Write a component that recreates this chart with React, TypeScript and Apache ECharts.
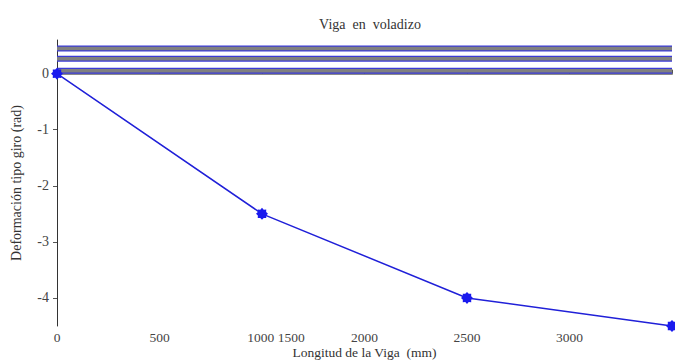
import React, { useEffect, useRef } from "react";
import * as echarts from "echarts";

// X tick labels as printed on the reference axis (evenly spaced ticks)
const xTickLabels = ["0", "500", "1000 1500", "2000", "2500", "3000", ""];
// Deformation (rad) at the beam stations; null where no station sits on a tick
const deformation = [0, null, -2.5, null, -4, null, -4.5];
// Beam drawing (three horizontal stripes) levels
const beamTop = [0.45, 0.45, 0.45, 0.45, 0.45, 0.45, 0.45];
const beamMid = [0.265, 0.265, 0.265, 0.265, 0.265, 0.265, 0.265];
const beamBottom = [0.05, 0.05, 0.05, 0.05, 0.05, 0.05, 0.05];
const yTicks = [0, -1, -2, -3, -4];

const FONT = "Liberation Serif";

function starPath(): string {
  const pts: string[] = [];
  const n = 8;
  for (let i = 0; i < n * 2; i++) {
    const r = i % 2 === 0 ? 10 : 7.5;
    const a = (Math.PI * i) / n;
    pts.push(`${(10 + r * Math.sin(a)).toFixed(2)} ${(10 - r * Math.cos(a)).toFixed(2)}`);
  }
  return "path://M" + pts.join(" L") + " Z";
}

export default function App() {
  const ref = useRef<HTMLDivElement>(null);
  useEffect(() => {
    if (!ref.current) return;
    const chart = echarts.init(ref.current, undefined, { renderer: "svg" });
    const beamSeries = (data: number[]) => [
      {
        type: "line",
        data,
        symbol: "none",
        silent: true,
        z: 1,
        lineStyle: { color: "#3b3bd6", width: 6 },
      },
      {
        type: "line",
        data,
        symbol: "none",
        silent: true,
        z: 2,
        lineStyle: { color: "#808080", width: 3.5 },
      },
    ];
    chart.setOption({
      animation: false,
      backgroundColor: "#ffffff",
      title: {
        text: "Viga  en  voladizo",
        left: 365,
        textAlign: "center",
        top: 12,
        textStyle: { fontFamily: FONT, fontSize: 14, fontWeight: "normal", color: "#333" },
      },
      grid: { left: 57, right: 3, top: 40, bottom: 35, containLabel: false, outerBoundsMode: "none" },
      xAxis: {
        type: "category",
        data: xTickLabels,
        boundaryGap: false,
        name: "Longitud de la Viga  (mm)",
        nameLocation: "middle",
        nameGap: 19,
        nameMoveOverlap: false,
        nameTextStyle: { fontFamily: FONT, fontSize: 13.5, color: "#333" },
        axisLine: { lineStyle: { color: "#8a8a8a", width: 2 } },
        axisTick: { inside: true, length: 4, interval: 0, lineStyle: { color: "#555" } },
        axisLabel: {
          interval: 0,
          fontFamily: FONT,
          fontSize: 13.5,
          lineHeight: 13,
          color: "#444",
          margin: 5,
          hideOverlap: false,
          formatter: (v: string) => (v.indexOf(" ") >= 0 ? "{pad|}" + v : v),
          rich: { pad: { width: 28 } },
        },
        splitLine: { show: false },
      },
      yAxis: {
        type: "value",
        min: -4.5,
        max: 0.6,
        name: "Deformación tipo giro (rad)",
        nameLocation: "middle",
        nameGap: 34,
        nameMoveOverlap: false,
        nameTextStyle: { fontFamily: FONT, fontSize: 14, color: "#333" },
        axisLine: { show: true, lineStyle: { color: "#333", width: 1 } },
        axisTick: { show: true, length: 4, customValues: yTicks, lineStyle: { color: "#555" } },
        axisLabel: { fontFamily: FONT, fontSize: 14, color: "#444", margin: 8, customValues: yTicks },
        splitLine: { show: false },
      },
      series: [
        ...beamSeries(beamTop),
        ...beamSeries(beamMid),
        ...beamSeries(beamBottom),
        {
          type: "line",
          data: deformation,
          connectNulls: true,
          z: 5,
          symbol: starPath(),
          symbolSize: 12,
          itemStyle: { color: "#1a1aee" },
          lineStyle: { color: "#2020d8", width: 1.5 },
        },
      ],
    });
    return () => chart.dispose();
  }, []);
  return <div ref={ref} style={{ width: 675, height: 361, position: "absolute", left: 0, top: 0 }} />;
}
